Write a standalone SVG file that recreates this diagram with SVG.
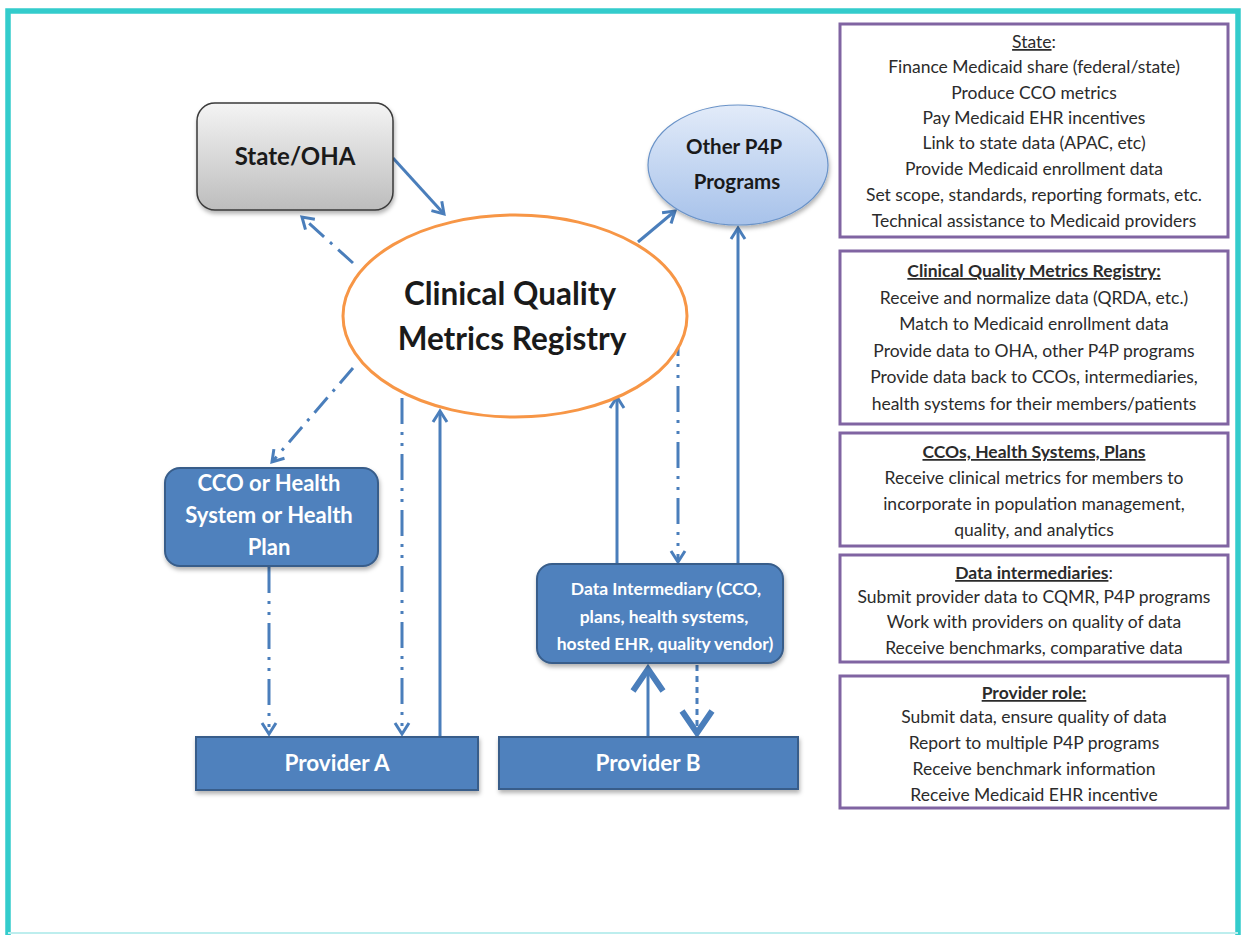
<svg xmlns="http://www.w3.org/2000/svg" width="1242" height="935" viewBox="0 0 1242 935">
<defs>
<linearGradient id="gGray" x1="0" y1="0" x2="0" y2="1"><stop offset="0" stop-color="#f4f4f4"/><stop offset="1" stop-color="#bdbdbd"/></linearGradient>
<linearGradient id="gBlue" x1="0" y1="0" x2="0" y2="1"><stop offset="0" stop-color="#e2ebf9"/><stop offset="1" stop-color="#a7c2ea"/></linearGradient>
<filter id="sh" x="-10%" y="-10%" width="130%" height="140%"><feDropShadow dx="1" dy="3" stdDeviation="2" flood-color="#000" flood-opacity="0.3"/></filter>
<marker id="ah" markerUnits="userSpaceOnUse" viewBox="-14 -9 16 18" markerWidth="16" markerHeight="18" refX="0" refY="0" orient="auto" overflow="visible"><path d="M-11,-7 L0,0 L-11,7" fill="none" stroke="#4a7ebb" stroke-width="3" stroke-dasharray="none" stroke-linejoin="miter"/></marker>
<marker id="ahb" markerUnits="userSpaceOnUse" viewBox="-24 -18 28 36" markerWidth="28" markerHeight="36" refX="0" refY="0" orient="auto" overflow="visible"><path d="M-22,-15 L0,0 L-22,15" fill="none" stroke="#4a7ebb" stroke-width="6" stroke-dasharray="none" stroke-linejoin="miter"/></marker>
</defs>
<style>
.lbl{font-family:"Lato","Liberation Sans",sans-serif;font-weight:bold;text-anchor:middle}
.wt{fill:#ffffff}
.bk{fill:#1a1a1a}
.blue{fill:#4f81bd;stroke:#385d8a;stroke-width:2}
.info{fill:#ffffff;stroke:#8064a2;stroke-width:3}
.it{font-family:"Lato","Liberation Sans",sans-serif;font-size:17.5px;fill:#2b2b2b;text-anchor:middle}
.u{text-decoration:underline}
.c{fill:none;stroke:#4a7ebb;stroke-width:3}
.dd{stroke-dasharray:26 8 3 8 3 8}
.ddot{stroke-dasharray:20 8 3 8}
</style>
<rect width="1242" height="935" fill="#ffffff"/>
<path d="M8,935 V11 H1238 V935" fill="none" stroke="#33cccc" stroke-width="5.5"/>
<line x1="8" y1="933" x2="1238" y2="933" stroke="#bdeeee" stroke-width="2"/>

<g id="connectors">
<line class="c" x1="393" y1="158" x2="444" y2="214" marker-end="url(#ah)"/>
<line class="c ddot" x1="353" y1="263" x2="302" y2="217" marker-end="url(#ah)"/>
<line class="c" x1="638" y1="242" x2="675" y2="211" marker-end="url(#ah)"/>
<line class="c" x1="738" y1="564" x2="738" y2="228" marker-end="url(#ah)"/>
<line class="c ddot" x1="353" y1="368" x2="272" y2="462" marker-end="url(#ah)"/>
<line class="c dd" x1="402" y1="398" x2="402" y2="734" marker-end="url(#ah)"/>
<line class="c" x1="440" y1="737" x2="440" y2="411" marker-end="url(#ah)"/>
<line class="c dd" x1="269" y1="567" x2="269" y2="734" marker-end="url(#ah)"/>
<line class="c" x1="617" y1="564" x2="617" y2="397" marker-end="url(#ah)"/>
<line class="c dd" x1="678" y1="330" x2="678" y2="562" marker-end="url(#ah)"/>
<line class="c" stroke-width="6" x1="648" y1="736" x2="648" y2="669" marker-end="url(#ahb)"/>
<line class="c" stroke-width="6" stroke-dasharray="6 5" x1="697" y1="665" x2="697" y2="733" marker-end="url(#ahb)"/>
</g>

<g id="state-oha">
<rect x="197" y="103" width="196" height="107" rx="18" fill="url(#gGray)" stroke="#3a3a3a" stroke-width="1.5" filter="url(#sh)"/>
<text class="lbl bk" x="295" y="165" font-size="24">State/OHA</text>
</g>

<g id="cqmr">
<ellipse cx="515" cy="316" rx="172" ry="101" fill="#ffffff" stroke="#f79646" stroke-width="3"/>
<text class="lbl bk" x="510" y="305" font-size="31.5">Clinical Quality</text>
<text class="lbl bk" x="512" y="350" font-size="31.5">Metrics Registry</text>
</g>

<g id="other-p4p">
<ellipse cx="738" cy="165" rx="90" ry="60" fill="url(#gBlue)" stroke="#6a93c8" stroke-width="1.2" filter="url(#sh)"/>
<text class="lbl bk" x="734" y="154" font-size="20.5">Other P4P</text>
<text class="lbl bk" x="737" y="189" font-size="20.5">Programs</text>
</g>

<g id="cco">
<rect x="165" y="468" width="213" height="98" rx="15" class="blue" filter="url(#sh)"/>
<text class="lbl wt" x="269" y="491" font-size="22">CCO or Health</text>
<text class="lbl wt" x="269" y="523" font-size="22">System or Health</text>
<text class="lbl wt" x="269" y="555" font-size="22">Plan</text>
</g>

<g id="data-intermediary">
<rect x="537" y="564" width="246" height="99" rx="15" class="blue" filter="url(#sh)"/>
<text class="lbl wt" x="666" y="595" font-size="17.5">Data Intermediary (CCO,</text>
<text class="lbl wt" x="664" y="623" font-size="17.5">plans, health systems,</text>
<text class="lbl wt" x="665" y="650" font-size="17.5">hosted EHR, quality vendor)</text>
</g>

<g id="provider-a">
<rect x="196" y="737" width="282" height="53" class="blue" filter="url(#sh)"/>
<text class="lbl wt" x="337" y="771" font-size="22.5">Provider A</text>
</g>

<g id="provider-b">
<rect x="499" y="737" width="299" height="52" class="blue" filter="url(#sh)"/>
<text class="lbl wt" x="648" y="771" font-size="22.5">Provider B</text>
</g>

<g id="info-state">
<rect x="840" y="24" width="388" height="213" class="info"/>
<text class="it" x="1034" y="48"><tspan class="u">State</tspan>:</text>
<text class="it" x="1034" y="73">Finance Medicaid share (federal/state)</text>
<text class="it" x="1034" y="99">Produce CCO metrics</text>
<text class="it" x="1034" y="124">Pay Medicaid EHR incentives</text>
<text class="it" x="1034" y="149">Link to state data (APAC, etc)</text>
<text class="it" x="1034" y="175">Provide Medicaid enrollment data</text>
<text class="it" x="1034" y="201">Set scope, standards, reporting formats, etc.</text>
<text class="it" x="1034" y="227">Technical assistance to Medicaid providers</text>
</g>

<g id="info-cqmr">
<rect x="840" y="251" width="388" height="173" class="info"/>
<text class="it u" x="1034" y="277" font-weight="bold">Clinical Quality Metrics Registry:</text>
<text class="it" x="1034" y="304">Receive and normalize data (QRDA, etc.)</text>
<text class="it" x="1034" y="330">Match to Medicaid enrollment data</text>
<text class="it" x="1034" y="357">Provide data to OHA, other P4P programs</text>
<text class="it" x="1034" y="383">Provide data back to CCOs, intermediaries,</text>
<text class="it" x="1034" y="410">health systems for their members/patients</text>
</g>

<g id="info-cco">
<rect x="840" y="433" width="388" height="113" class="info"/>
<text class="it u" x="1034" y="458" font-weight="bold">CCOs, Health Systems, Plans</text>
<text class="it" x="1034" y="484">Receive clinical metrics for members to</text>
<text class="it" x="1034" y="510">incorporate in population management,</text>
<text class="it" x="1034" y="536">quality, and analytics</text>
</g>

<g id="info-intermediaries">
<rect x="840" y="555" width="388" height="107" class="info"/>
<text class="it" x="1034" y="579"><tspan class="u" font-weight="bold">Data intermediaries</tspan>:</text>
<text class="it" x="1034" y="603">Submit provider data to CQMR, P4P programs</text>
<text class="it" x="1034" y="628">Work with providers on quality of data</text>
<text class="it" x="1034" y="654">Receive benchmarks, comparative data</text>
</g>

<g id="info-provider">
<rect x="840" y="676" width="388" height="132" class="info"/>
<text class="it u" x="1034" y="699" font-weight="bold">Provider role:</text>
<text class="it" x="1034" y="723">Submit data, ensure quality of data</text>
<text class="it" x="1034" y="749">Report to multiple P4P programs</text>
<text class="it" x="1034" y="775">Receive benchmark information</text>
<text class="it" x="1034" y="801">Receive Medicaid EHR incentive</text>
</g>
</svg>
